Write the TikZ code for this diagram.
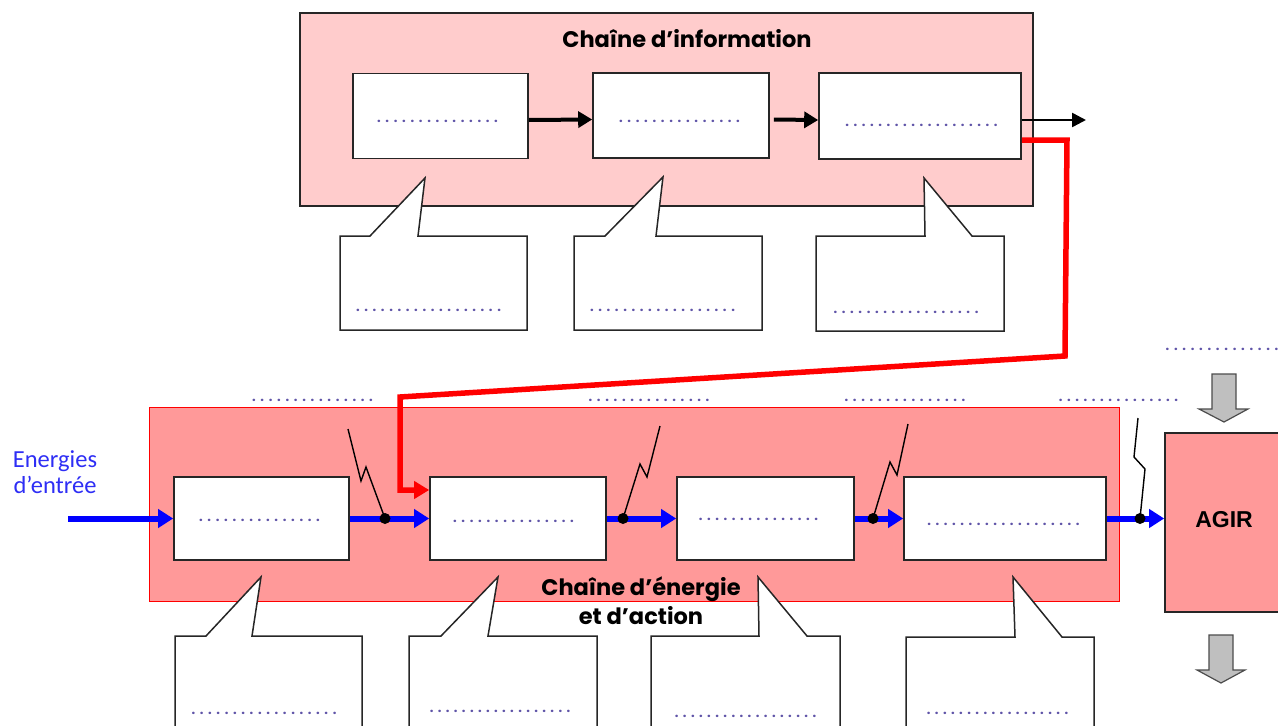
\documentclass[tikz,border=0pt]{standalone}
\usepackage{fontspec}
\setmainfont{Poppins}
\newfontfamily\calfont{Carlito}
\newfontfamily\arialfont{Liberation Sans}
\usetikzlibrary{arrows.meta}

\definecolor{infofill}{HTML}{FFCCCC}
\definecolor{energyfill}{HTML}{FF9999}
\definecolor{flowblue}{HTML}{0000FF}
\definecolor{labelblue}{HTML}{2E2EF5}
\definecolor{linkred}{HTML}{FF0000}
\definecolor{dotblue}{HTML}{5F54A8}
\definecolor{blockgray}{HTML}{BFBFBF}
\definecolor{edge}{HTML}{262626}

% a row of placeholder dots, #1 = width in pt
\newcommand{\dotrow}[1]{\makebox[#1pt]{\xleaders\hbox to 7.9pt{\hss.\hss}\hfill}}

\tikzset{
  infochain/.style={draw=edge, line width=1.4pt, fill=infofill},
  energychain/.style={draw=linkred, line width=1pt, fill=energyfill},
  fbox/.style={draw=edge, line width=1.6pt, fill=white, inner sep=0pt},
  agirbox/.style={draw=edge, line width=1.6pt, fill=energyfill, inner sep=0pt},
  bubble/.style={draw=edge, line width=1.5pt, fill=white, line join=miter},
  dots/.style={inner sep=0pt, text=dotblue, font=\fontsize{13}{13}\selectfont\bfseries},
  title/.style={inner sep=0pt, font=\fontsize{22.5}{29}\selectfont\bfseries, align=center},
  infoarrow/.style={draw=black, line width=4pt, -{Triangle[length=14pt,width=16pt]}},
  outarrow/.style={draw=black, line width=2.5pt, -{Triangle[length=14pt,width=14pt]}},
  flow/.style={draw=flowblue, line width=6pt, -{Triangle[length=15pt,width=18pt]}},
  junction/.style={circle, fill=black, inner sep=0pt, minimum size=11pt},
  bolt/.style={draw=black, line width=1.4pt, line join=miter},
  redlink/.style={draw=linkred, line width=5.5pt, line join=miter, -{Triangle[length=15pt,width=17pt]}},
  blockarrow/.style={draw=black!70, line width=1.2pt, fill=blockgray, line join=miter},
}

\begin{document}
\begin{tikzpicture}[x=1pt,y=-1pt]
\useasboundingbox (0,0) rectangle (1278,726);
\clip (0,0) rectangle (1278,726);

% ---------- information chain ----------
\node[infochain, minimum width=733pt, minimum height=193pt] (info) at (666.5,109.5) {};
\node[title] (infotitle) at (687,39) {Chaîne d’information};

\node[fbox, minimum width=175pt, minimum height=85pt] (B1) at (440.5,116) {};
\node[fbox, minimum width=176pt, minimum height=85pt] (B2) at (681,115.5) {};
\node[fbox, minimum width=202pt, minimum height=86pt] (B3) at (920,116) {};
\node[dots] (b1t) at (437.5,121) {\dotrow{126}};
\node[dots] (b2t) at (679.5,121) {\dotrow{126}};
\node[dots] (b3t) at (921.5,125) {\dotrow{157}};

\draw[infoarrow] ([yshift=-4pt]B1.east) -- ([yshift=-4pt]B2.west);
\draw[infoarrow] ([yshift=-4pt,xshift=4pt]B2.east) -- ([yshift=-4pt]B3.west);
\coordinate (infoout) at (1086,120);
\draw[outarrow] ([yshift=-4pt]B3.east) -- (infoout);

% callouts of the information chain
\path[bubble] (340,236) -- (370,236) -- (425,178) -- (418,236) -- (527,236) -- (527,330) -- (340,330) -- cycle;
\path[bubble] (574,236) -- (605,236) -- (663,177) -- (656,236) -- (762,236) -- (762,330) -- (574,330) -- cycle;
\path[bubble] (816,236) -- (925,236) -- (924,178) -- (972,236) -- (1004,236) -- (1004,331) -- (816,331) -- cycle;
\node[dots] (c1t) at (428.5,310) {\dotrow{150}};
\node[dots] (c2t) at (662.5,310) {\dotrow{150}};
\node[dots] (c3t) at (906,312) {\dotrow{150}};

% ---------- energy and action chain ----------
\node[energychain, minimum width=970pt, minimum height=194pt] (energy) at (634,504) {};

\node[dots] (l1) at (312.5,400) {\dotrow{126}};
\node[dots] (l2) at (649,400) {\dotrow{126}};
\node[dots] (l3) at (905,400) {\dotrow{126}};
\node[dots] (l4) at (1118.5,400) {\dotrow{124}};
\node[dots] (l5) at (1222,349) {\dotrow{118}};

\node[fbox, minimum width=175pt, minimum height=83pt] (E1) at (261.5,518.5) {};
\node[fbox, minimum width=176pt, minimum height=83pt] (E2) at (518,518.5) {};
\node[fbox, minimum width=177pt, minimum height=83pt] (E3) at (765.5,518.5) {};
\node[fbox, minimum width=202pt, minimum height=83pt] (E4) at (1005,518.5) {};
\node[agirbox, minimum width=118pt, minimum height=179pt] (agir) at (1224,522.5) {};
\node[inner sep=0pt, font=\arialfont\bfseries\fontsize{23}{23}\selectfont] (agirt) at (1224,520) {AGIR};

\node[dots] (e1t) at (259.5,520) {\dotrow{126}};
\node[dots] (e2t) at (513.5,521) {\dotrow{126}};
\node[dots] (e3t) at (758.5,519) {\dotrow{124}};
\node[dots] (e4t) at (1003.5,524) {\dotrow{157}};

\node[title] (entitle) at (641,600.5) {Chaîne d’énergie\\et d’action};

% input energy
\node[inner sep=0pt, align=center, text=labelblue, font=\calfont\fontsize{24.5}{26}\selectfont] (ein) at (55,472) {Energies\\d’entrée};
\coordinate (fin) at (68,518.5);
\draw[flow] (fin) -- (E1.west);

% power flow between the blocks
\draw[flow] (E1.east) -- (E2.west);
\draw[flow] (E2.east) -- (E3.west);
\draw[flow] (E3.east) -- (E4.west);
\draw[flow] (E4.east) -- (agir.west |- 0,518.5);

\node[junction] (k1) at (385,518.5) {};
\node[junction] (k2) at (623,518.5) {};
\node[junction] (k3) at (873,518.5) {};
\node[junction] (k4) at (1140,518.5) {};

% disturbances acting on the flow
\draw[bolt] (k1.center) -- (366,467) -- (361,481) -- (348,429);
\draw[bolt] (k2.center) -- (640,464) -- (647,477) -- (660,426);
\draw[bolt] (k3.center) -- (890,462) -- (897,475) -- (908,424);
\draw[bolt] (k4.center) -- (1145,469) -- (1134,457) -- (1138,418);

% order from the information chain
\draw[redlink] ([yshift=-24pt]B3.east) -- (1067,140) -- (1065,356) -- (400,397) -- (400,490) -- ([yshift=28.5pt]E2.west);

% callouts of the energy chain
\path[bubble] (175,636) -- (206,636) -- (261,577) -- (252,636) -- (362,636) -- (362,745) -- (175,745) -- cycle;
\path[bubble] (409,636) -- (441,636) -- (498,577) -- (488,636) -- (597,636) -- (597,745) -- (409,745) -- cycle;
\path[bubble] (651,636) -- (759,636) -- (758,577) -- (807,636) -- (840,636) -- (840,745) -- (651,745) -- cycle;
\path[bubble] (906,637) -- (1015,637) -- (1013,577) -- (1062,637) -- (1094,637) -- (1094,745) -- (906,745) -- cycle;
\node[dots] (d1t) at (264,713) {\dotrow{150}};
\node[dots] (d2t) at (500,711) {\dotrow{145}};
\node[dots] (d3t) at (745.5,716) {\dotrow{146}};
\node[dots] (d4t) at (997.5,713) {\dotrow{146}};

% input and output of the action
\path[blockarrow] (1212,374) -- (1236,374) -- (1236,409) -- (1248,409) -- (1224,422) -- (1199,409) -- (1212,409) -- cycle;
\path[blockarrow] (1209,635) -- (1233,635) -- (1233,670) -- (1245,670) -- (1221,683) -- (1197,670) -- (1209,670) -- cycle;
\end{tikzpicture}
\end{document}
